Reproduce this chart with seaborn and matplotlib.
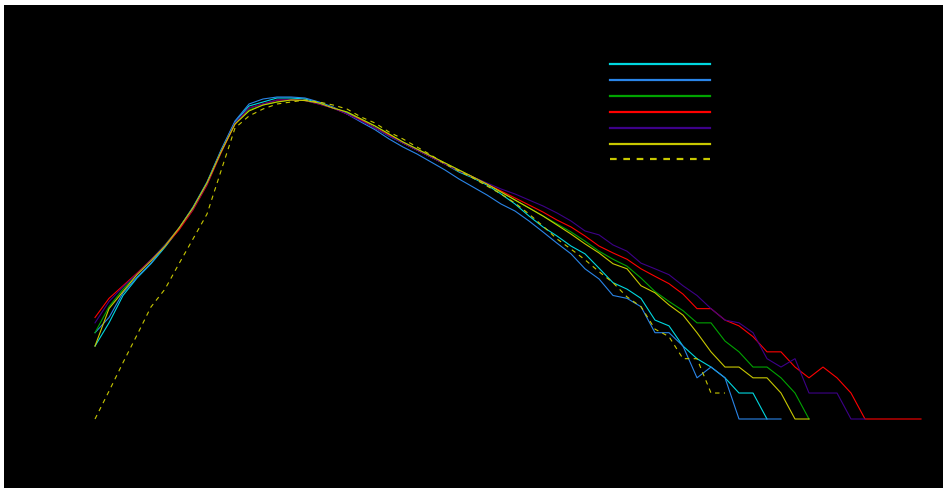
import numpy as np
import seaborn as sns
import matplotlib.pyplot as plt
from matplotlib.patches import Rectangle

# series labels (legend text is black on black in the reference)
labels = ["sample 1", "sample 2", "sample 3", "sample 4", "sample 5", "sample 6", "reference"]
colors = ["#00d8e0", "#2a85e8", "#00a400", "#ff0000", "#3d0088", "#c8c800", "#c8c800"]

# counts per bin
cyan = [7, 13, 27, 43, 63, 98, 159, 279, 543, 1275, 2764, 4235, 4712, 5244, 5244, 5105, 4587, 4014,
        3513, 2915, 2355, 1902, 1578, 1309, 1086, 901, 728, 620, 514, 405, 310, 225, 168, 132, 101,
        82, 56, 38, 32, 25, 14, 12, 7, 5, 4, 3, 2, 2, 1]
blue = [10, 15, 29, 44, 64, 101, 163, 286, 557, 1309, 2839, 4467, 5105, 5385, 5385, 5244, 4712, 4124,
        3421, 2764, 2250, 1760, 1418, 1177, 951, 768, 604, 488, 394, 310, 257, 197, 147, 109, 82,
        55, 42, 27, 25, 20, 10, 10, 7, 3, 4, 3, 1, 1, 1, 1]
green = [10, 20, 32, 48, 70, 104, 163, 279, 543, 1241, 2620, 3806, 4349, 4712, 4970, 4900, 4587, 4014,
         3609, 2994, 2484, 2007, 1621, 1345, 1116, 926, 768, 637, 528, 427, 345, 279, 225, 182, 147,
         115, 88, 71, 59, 43, 30, 23, 18, 13, 13, 8, 6, 4, 4, 3, 2, 1]
red = [15, 25, 35, 49, 70, 101, 155, 264, 514, 1209, 2620, 4014, 4467, 4950, 5000, 4900, 4467, 4014,
       3421, 2915, 2355, 1954, 1578, 1309, 1086, 901, 748, 637, 528, 439, 364, 302, 250, 202, 168,
       132, 101, 84, 71, 55, 45, 37, 28, 19, 19, 14, 12, 9, 6, 6, 4, 3, 4, 3, 2, 1, 1, 1, 1, 1]
purple = [13, 23, 34, 48, 70, 104, 163, 271, 528, 1241, 2691, 4014, 4467, 4970, 5000, 4900, 4467, 4014,
          3421, 2839, 2355, 1902, 1578, 1309, 1086, 901, 748, 637, 543, 463, 405, 345, 294, 244, 197,
          151, 136, 104, 88, 64, 55, 47, 35, 27, 19, 14, 13, 10, 5, 4, 5, 2, 2, 2, 1, 1]
yellow = [7, 19, 30, 47, 68, 101, 163, 279, 543, 1241, 2620, 3706, 4349, 4712, 4970, 4900, 4587, 4014,
          3609, 2994, 2484, 2007, 1621, 1345, 1116, 926, 768, 637, 528, 427, 345, 279, 225, 177, 139,
          107, 84, 63, 55, 35, 29, 21, 16, 10, 6, 4, 4, 3, 3, 2, 1, 1]
reference = [1, 2.1, 4.5, 9.4, 19.9, 32, 63, 122, 237, 748, 2355, 3243, 3909, 4467, 4712, 4970, 4712,
             4349, 3909, 3158, 2691, 2117, 1756, 1418, 1146, 901, 748, 620, 501, 405, 318, 237, 172,
             122, 93, 70, 51, 38, 26, 20, 11, 9, 5, 5, 2, 2]

series = [cyan, blue, green, red, purple, yellow, reference]

W, H = 943, 489
fig = plt.figure(figsize=(W / 100, H / 100), dpi=100, facecolor="black")
# thin white strips along the top and left edges
fig.patches.append(Rectangle((0, (H - 6) / H), 1, 6 / H, transform=fig.transFigure,
                             facecolor="white", edgecolor="none"))
fig.patches.append(Rectangle((0, 0), 4 / W, 1, transform=fig.transFigure,
                             facecolor="white", edgecolor="none"))

# axes box in pixels (left, right, top, bottom)
px0, px1, pyt, pyb = 55, 935, 30, 455
ax = fig.add_axes([px0 / W, (H - pyb) / H, (px1 - px0) / W, (pyb - pyt) / H])
ax.set_facecolor("black")

for vals, col, lab in zip(series, colors, labels):
    sns.lineplot(x=np.arange(len(vals)), y=vals, ax=ax, color=col, linewidth=0.8, label=lab)
ax.lines[-1].set_dashes((4, 4))

ax.set_yscale("log")
step, x_first = 14.0, 95.0
ax.set_xlim((px0 - x_first) / step, (px1 - x_first) / step)
one_px, per_dec = 420.0, 86.3
ax.set_ylim(10 ** ((one_px - pyb) / per_dec), 10 ** ((one_px - pyt) / per_dec))

ax.set_xlabel("bin", color="black", fontsize=7, labelpad=1)
ax.set_ylabel("count", color="black", fontsize=7, labelpad=1)
ax.tick_params(colors="black", which="both", labelsize=7)
for s in ax.spines.values():
    s.set_color("black")

leg = ax.legend(loc="upper left", bbox_to_anchor=(606 / W, 1 - 57 / H), bbox_transform=fig.transFigure,
                frameon=False, fontsize=7, handlelength=10.3, borderaxespad=0, labelspacing=0.6)
for t in leg.get_texts():
    t.set_color("black")
for ln in leg.get_lines():
    ln.set_linewidth(1.6)
leg.get_lines()[-1].set_dashes((3, 3))

fig.savefig("out.png", dpi=100, facecolor=fig.get_facecolor())
